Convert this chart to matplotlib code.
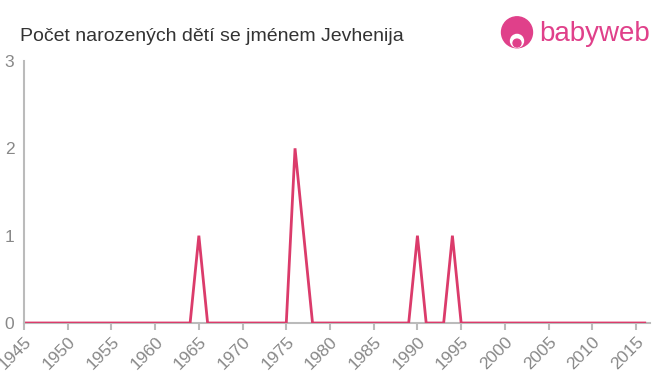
import matplotlib.pyplot as plt
from matplotlib.patches import Circle

plt.rcParams['font.family'] = ['Liberation Sans', 'DejaVu Sans']

years = list(range(1945, 2017))
peaks = {1965: 1, 1976: 2, 1977: 1, 1990: 1, 1994: 1}
counts = [peaks.get(y, 0) for y in years]
xticks = list(range(1945, 2016, 5))
yticks = [0, 1, 2, 3]

fig = plt.figure(figsize=(6.6, 3.75), dpi=100)
ax = fig.add_axes([24 / 660, 1 - 323 / 375, 626 / 660, 262 / 375])

ax.plot(years, counts, color='#db3b6b', lw=2, solid_joinstyle='miter')

ax.set_xlim(1945, 2016.6)
ax.set_ylim(0, 3)
ax.set_xticks(xticks)
ax.set_xticklabels([str(x) for x in xticks], rotation=45, ha='right',
                   rotation_mode='anchor')
ax.set_yticks(yticks)
ax.tick_params(axis='x', colors='#bbbbbb', labelcolor='#888888', labelsize=12.5,
               length=5, width=1.5, pad=3)
ax.tick_params(axis='y', length=0, labelcolor='#888888', labelsize=12.5, pad=7)
for s in ['top', 'right']:
    ax.spines[s].set_visible(False)
for s in ['left', 'bottom']:
    ax.spines[s].set_color('#bbbbbb')
    ax.spines[s].set_linewidth(1.5)
ax.spines['bottom'].set_zorder(0)

fig.text(20 / 660, 1 - 41 / 375, 'Počet narozených dětí se jménem Jevhenija',
         fontsize=14, color='#333333', va='baseline', ha='left')

# logo
pink = '#e0408a'
logo = fig.add_axes([499 / 660, 1 - 51 / 375, 36 / 660, 36 / 375])
logo.set_xlim(0, 1)
logo.set_ylim(0, 1)
logo.set_aspect('equal')
logo.axis('off')
logo.add_patch(Circle((0.5, 0.52), 0.43, color=pink))
logo.add_patch(Circle((0.5, 0.28), 0.18, color='white'))
logo.add_patch(Circle((0.5, 0.22), 0.11, color=pink))
fig.text(539 / 660, 1 - 34 / 375, 'babyweb', fontsize=20, color=pink,
         va='center', ha='left')

fig.savefig('out.png', dpi=100)
